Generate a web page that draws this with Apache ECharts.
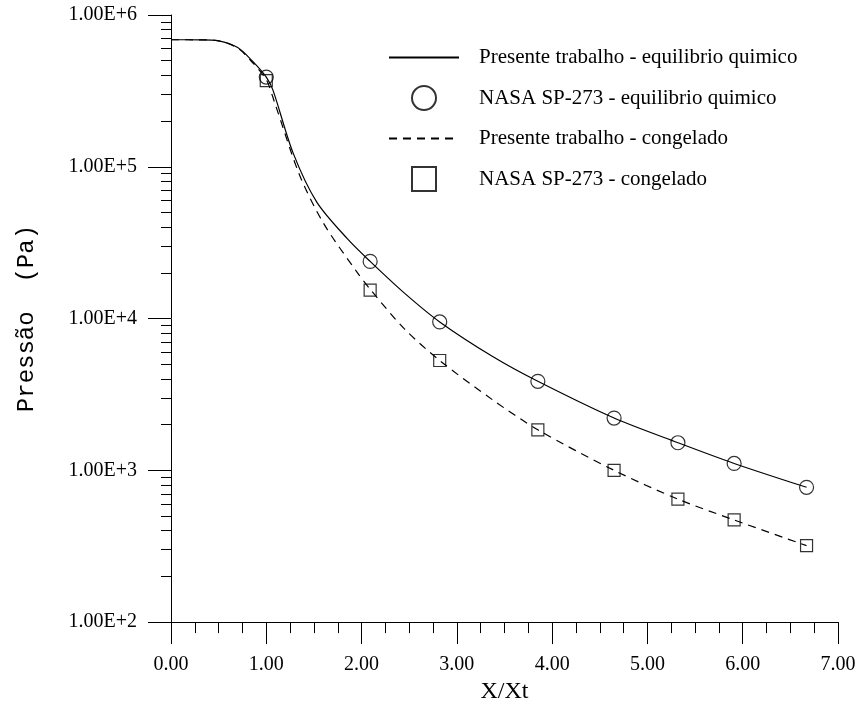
<!DOCTYPE html>
<html>
<head>
<meta charset="utf-8">
<script src="https://cdn.jsdelivr.net/npm/echarts@6/dist/echarts.min.js"></script>
<style>
html, body { margin: 0; padding: 0; background: #fff; }
#chart { width: 861px; height: 709px; }
</style>
</head>
<body>
<div id="chart"></div>
<script>
// values: [X/Xt, pressure in Pa]
var eqLine = [
	[0, 687000], [0.3, 686000], [0.5, 675000], [0.7, 610000], [0.85, 500000],
	[1.0, 390000], [1.07, 320000], [1.28, 124000], [1.53, 58500], [1.85, 33600],
	[2.09, 23800], [2.45, 14700], [2.82, 9500], [3.38, 5600], [3.85, 3860],
	[4.65, 2210], [5.32, 1520], [5.91, 1110], [6.67, 773]
];
var eqNasa = [
	[1.0, 390000], [2.09, 23800], [2.82, 9500], [3.85, 3860],
	[4.65, 2210], [5.32, 1520], [5.91, 1110], [6.67, 773]
];
var frozenLine = [
	[0, 687000], [0.3, 686000], [0.5, 675000], [0.7, 605000], [0.85, 490000],
	[1.0, 375000], [1.09, 262000], [1.35, 88000], [1.6, 42500], [1.95, 20300],
	[2.09, 15600], [2.45, 8550], [2.82, 5290], [3.38, 2900], [3.85, 1850],
	[4.65, 1000], [5.32, 646], [5.91, 471], [6.67, 319]
];
var frozenNasa = [
	[1.0, 370000], [2.09, 15400], [2.82, 5290], [3.85, 1850],
	[4.65, 1000], [5.32, 646], [5.91, 471], [6.67, 319]
];
var seriesNames = [
	'Presente trabalho - equilibrio quimico',
	'NASA SP-273 - equilibrio quimico',
	'Presente trabalho - congelado',
	'NASA SP-273 - congelado'
];
var decades = [100, 1000, 10000, 100000];
var minorSteps = [2, 3, 4, 5, 6, 7, 8, 9];

var minorY = [];
decades.forEach(function(d){
	minorSteps.forEach(function(s){ minorY.push(d * s); });
});

var serif = 'Liberation Serif';
var square = 'path://M0 0H10V10H0Z';
// line items in the legend show the line only
var noMarker = { color: 'rgba(0,0,0,0)', borderWidth: 0 };

var chart = echarts.init(document.getElementById('chart'));
chart.setOption({
	animation: false,
	backgroundColor: '#fff',
	grid: { left: 171, right: 23, top: 15, bottom: 82 },
	legend: {
		orient: 'vertical',
		left: 388,
		top: 47,
		padding: 0,
		itemWidth: 70,
		itemHeight: 24,
		itemGap: 17,
		data: [
			{ name: seriesNames[0], itemStyle: noMarker },
			{ name: seriesNames[1] },
			{ name: seriesNames[2], itemStyle: noMarker },
			{ name: seriesNames[3] }
		],
		textStyle: { fontFamily: serif, fontSize: 21, color: '#000', padding: [0, 0, 0, 15] }
	},
	xAxis: {
		type: 'value',
		min: 0,
		max: 7,
		interval: 1,
		name: 'X/Xt',
		nameLocation: 'middle',
		nameGap: 55,
		nameTextStyle: { fontFamily: serif, fontSize: 24, color: '#000' },
		axisLine: { lineStyle: { color: '#000', width: 1 } },
		axisTick: { length: 22, lineStyle: { color: '#000' } },
		minorTick: { show: true, splitNumber: 4, length: 11, lineStyle: { color: '#000' } },
		splitLine: { show: false },
		axisLabel: {
			margin: 33,
			fontFamily: serif, fontSize: 20, color: '#000',
			formatter: function(v){ return v.toFixed(2); }
		}
	},
	yAxis: [{
		type: 'log',
		logBase: 10,
		min: 100,
		max: 1000000,
		name: 'Pressão  (Pa)',
		nameLocation: 'middle',
		nameGap: 132,
		nameTextStyle: { fontFamily: 'Liberation Mono', fontSize: 24, color: '#000' },
		axisLine: { lineStyle: { color: '#000', width: 1 } },
		axisTick: { length: 23, lineStyle: { color: '#000' } },
		splitLine: { show: false },
		axisLabel: {
			margin: 34,
			fontFamily: serif, fontSize: 20, color: '#000',
			formatter: function(v){ return '1.00E+' + Math.round(Math.log10(v)); }
		}
	}, {
		type: 'log',
		logBase: 10,
		min: 100,
		max: 1000000,
		position: 'left',
		axisLine: { show: false },
		axisLabel: { show: false },
		splitLine: { show: false },
		axisTick: { show: true, length: 10, customValues: minorY, lineStyle: { color: '#000' } }
	}],
	series: [{
		name: seriesNames[0],
		type: 'line',
		data: eqLine,
		smooth: 0.3,
		symbol: 'none',
		color: '#000',
		lineStyle: { color: '#000', width: 1.2 },
		z: 2
	}, {
		name: seriesNames[1],
		type: 'scatter',
		data: eqNasa,
		symbol: 'circle',
		symbolSize: 14,
		itemStyle: { color: 'rgba(255,255,255,0)', borderColor: '#000', borderWidth: 1.2 },
		z: 3
	}, {
		name: seriesNames[2],
		type: 'line',
		data: frozenLine,
		smooth: 0.3,
		symbol: 'none',
		color: '#000',
		lineStyle: { color: '#000', width: 1.2, type: [8, 6] },
		z: 2
	}, {
		name: seriesNames[3],
		type: 'scatter',
		data: frozenNasa,
		symbol: square,
		symbolKeepAspect: true,
		symbolSize: 12,
		itemStyle: { color: 'rgba(255,255,255,0)', borderColor: '#000', borderWidth: 1.2 },
		z: 3
	}]
});
</script>
</body>
</html>
